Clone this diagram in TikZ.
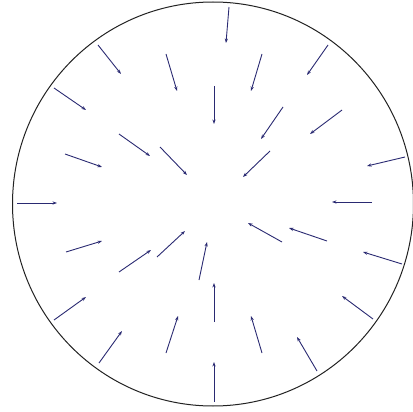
\documentclass[tikz,border=0pt]{standalone}
\usepackage{xcolor}
\definecolor{cVec}{HTML}{2A2A72}
\definecolor{cRim}{HTML}{222222}
\usepackage{tikz}
\usetikzlibrary{arrows.meta}
\tikzset{
  rim/.style={draw=cRim,line width=1pt},
  vec-arrow/.style={-{Stealth[length=4.5pt,width=3.2pt]},line width=0.9pt,draw=cVec},
}

\begin{document}
\begin{tikzpicture}[x=1pt,y=-1pt]
  \useasboundingbox (0,0) rectangle (413,412);
  \draw[rim] (213,204) ellipse[x radius=200.5,y radius=202];
  % tail / tip pairs of the vectors (pixel grid)
  \foreach \xa/\ya/\xb/\yb in {
      98/45/121/74, 166/54/177/91, 54/88/86/110, 119/134/150/156,
      160/147/187/175, 65/154/102/167, 17/203/57/203,
      229/7/226/43, 262/54/251/91, 328/45/307/75, 214/86/214/124,
      283/107/261/139, 342/110/310/134, 270/151/243/177,
      405/157/367/166, 372/202/332/202,
      66/252/102/241, 119/272/151/250, 157/257/185/231, 199/280/207/242,
      54/320/86/297, 99/363/122/331, 166/353/178/316,
      327/241/289/228, 282/242/248/223, 402/264/363/252, 373/319/342/296,
      214/322/214/283, 262/353/251/316, 317/371/297/337, 214/402/214/362}
    \draw[vec-arrow] (\xa,\ya) -- (\xb,\yb);
\end{tikzpicture}
\end{document}
